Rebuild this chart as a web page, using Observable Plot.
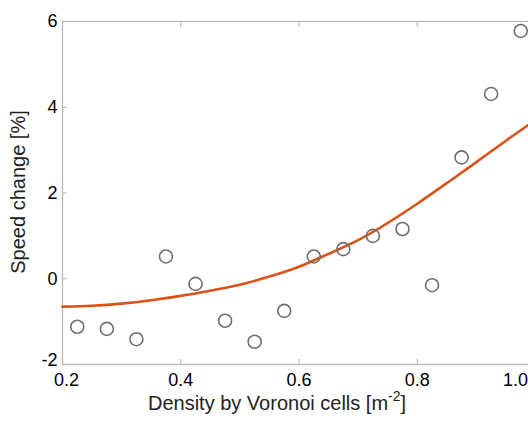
<!DOCTYPE html>
<html><head><meta charset="utf-8">
<script src="https://cdn.jsdelivr.net/npm/d3@7"></script>
<script src="https://cdn.jsdelivr.net/npm/@observablehq/plot@0.6"></script>
<style>
html,body{margin:0;padding:0;background:#fff;overflow:hidden;width:528px;height:421px;}
#chart{width:560px;}
#chart svg{max-width:none !important;width:560px !important;height:421px !important;display:block;}
</style></head><body><div id="chart"></div>
<script>
// Measured points
const density = [0.225,0.275,0.325,0.375,0.425,0.475,0.525,0.575,0.625,0.675,0.725,0.775,0.825,0.875,0.925,0.975];
const speedChange = [-1.12,-1.17,-1.41,0.52,-0.12,-0.98,-1.47,-0.75,0.52,0.69,1.00,1.16,-0.15,2.83,4.31,5.78];
// Fitted curve
const fitDensity = [0.20,0.25,0.30,0.35,0.40,0.45,0.50,0.55,0.60,0.65,0.70,0.75,0.80,0.85,0.90,0.95,1.00];
const fitSpeed   = [-0.65,-0.63,-0.58,-0.50,-0.40,-0.28,-0.14,0.05,0.28,0.58,0.90,1.30,1.75,2.23,2.72,3.22,3.70];
const xTicks = [0.2,0.4,0.6,0.8,1.0];
const xTickLabels = ["0.2","0.4","0.6","0.8","1.0"];
const yTicks = [-2,0,2,4,6];
const yTickLabels = ["-2","0","2","4","6"];
const xLabelMain = "Density by Voronoi cells [m";
const xLabelSup = "-2";
const xLabelEnd = "]";
const yLabel = "Speed change [%]";

const points = density.map((d,i)=>({x:d,y:speedChange[i]}));
const fit = fitDensity.map((d,i)=>({x:d,y:fitSpeed[i]}));

const axisColor = "#b4b4b4";
const font = "'Liberation Sans', Arial, sans-serif";

const plot = Plot.plot({
  width: 560,
  height: 421,
  marginLeft: 62,
  marginRight: 25,
  marginTop: 21,
  marginBottom: 57,
  style: {fontFamily: font, fontSize: "18px", color: "#000", background: "#fff", maxWidth: "none"},
  x: {domain: [0.2, 1.0]},
  y: {domain: [-2, 6]},
  marks: [
    Plot.frame({stroke: axisColor, strokeWidth: 1.2}),
    Plot.axisX(xTicks, {anchor: "bottom", tickSize: -5, tickPadding: 14, stroke: axisColor, fill: "#000",
      tickFormat: d => xTickLabels[xTicks.indexOf(d)], label: null, fontSize: 18}),
    Plot.axisX(xTicks, {anchor: "top", tickSize: -5, stroke: axisColor, tickFormat: () => "", label: null}),
    Plot.axisY(yTicks, {anchor: "left", tickSize: -5, tickPadding: 10, stroke: axisColor, fill: "#000",
      tickFormat: d => yTickLabels[yTicks.indexOf(d)], label: null, fontSize: 18}),
    Plot.axisY(yTicks, {anchor: "right", tickSize: -5, stroke: axisColor, tickFormat: () => "", label: null}),
    Plot.line(fit, {x: "x", y: "y", stroke: "#d95319", strokeWidth: 2.6, curve: "natural"}),
    Plot.dot(points, {x: "x", y: "y", r: 6.5, stroke: "#6f6f6f", strokeWidth: 1.6, fill: "none"})
  ]
});

const svg = d3.select(plot);
// small label nudges as in the original figure
svg.selectAll("text").each(function() {
  const t = this.textContent;
  if (t === "1.0") d3.select(this).attr("dx", -20);
  if (t === "0.2") d3.select(this).attr("dx", 4);
  if (t === "-2" && !this.closest("tspan") && this.getAttribute("font-size") !== "14") {
    const cur = this.getAttribute("dy");
    d3.select(this).attr("transform", function() {
      const tr = this.getAttribute("transform") || "";
      return tr + " translate(0,-4)";
    });
  }
});

const xl = svg.append("text")
  .attr("x", 277).attr("y", 410)
  .attr("text-anchor", "middle")
  .attr("font-size", 20).attr("font-family", font).attr("fill", "#222");
xl.append("tspan").text(xLabelMain);
xl.append("tspan").attr("font-size", 14).attr("dy", -9).text(xLabelSup);
xl.append("tspan").attr("dy", 9).text(xLabelEnd);

svg.append("text")
  .attr("transform", "translate(25,192) rotate(-90)")
  .attr("text-anchor", "middle")
  .attr("font-size", 20).attr("font-family", font).attr("fill", "#222")
  .text(yLabel);

document.getElementById("chart").appendChild(plot);
</script></body></html>
